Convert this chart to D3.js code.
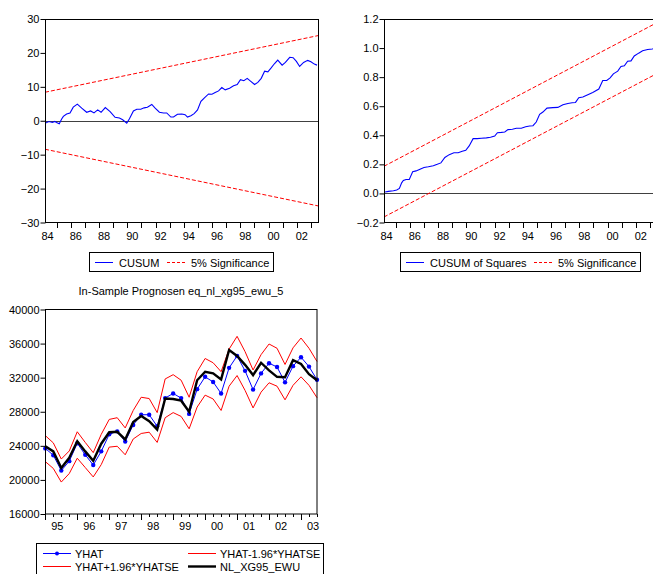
<!DOCTYPE html>
<html><head><meta charset="utf-8">
<script src="https://cdn.jsdelivr.net/npm/d3@7"></script>
<style>
body{margin:0;background:#fff}
svg{display:block}
text{font-family:"Liberation Sans",Arial,sans-serif;font-size:11px;fill:#000}
</style>
</head><body>
<svg id="c" width="653" height="574"></svg>
<script>
// ---- CUSUM chart data ----
const cusumT = [1984.21,1984.40,1984.52,1984.69,1984.87,1984.99,1985.18,1985.35,1985.47,1985.70,1985.94,1986.17,1986.46,1986.77,1987.12,1987.40,1987.64,1987.90,1988.14,1988.44,1988.78,1989.13,1989.44,1989.67,1989.96,1990.15,1990.43,1990.67,1990.95,1991.19,1991.42,1991.73,1991.97,1992.27,1992.56,1992.79,1993.08,1993.27,1993.55,1993.86,1994.09,1994.26,1994.50,1994.73,1994.97,1995.21,1995.44,1995.75,1995.99,1996.22,1996.46,1996.69,1996.93,1997.24,1997.52,1997.78,1998.01,1998.25,1998.49,1998.72,1999.01,1999.24,1999.48,1999.72,1999.95,2000.17,2000.41,2000.65,2000.96,2001.19,2001.50,2001.74,2001.97,2002.20,2002.48,2002.77,2003.00,2003.24,2003.43];
const cusumV = [-0.7,-0.3,-0.3,-0.5,-0.2,-0.5,-0.9,0.5,1.3,2.0,2.3,4.0,4.9,3.7,2.5,2.9,2.3,3.2,2.5,3.9,2.7,1.0,0.8,0.3,-0.7,0.6,2.9,3.4,3.4,3.8,4.0,4.8,3.7,2.5,2.3,2.3,1.1,1.1,1.9,2.0,1.8,1.1,1.5,2.1,3.2,5.7,6.7,7.9,7.8,8.3,8.8,9.8,9.1,9.6,10.3,10.7,12.1,11.8,12.5,11.7,10.7,11.3,12.5,14.6,14.4,15.5,16.8,17.9,16.4,17.2,18.7,18.6,17.5,16.0,17.2,17.8,17.4,16.7,16.4];
const boundT = [1984.17, 2003.5];
const cusumUpper = [8.4, 25.1];
const cusumLower = [-8.4, -25.1];
const cusumTicks = [-30,-20,-10,0,10,20,30];

// ---- CUSUM of squares data ----
const sqT = [1984.25,1984.48,1984.84,1985.07,1985.26,1985.42,1985.54,1985.73,1985.96,1986.20,1986.44,1986.72,1987.00,1987.31,1987.66,1987.94,1988.20,1988.48,1988.79,1989.12,1989.42,1989.71,1989.96,1990.20,1990.48,1990.76,1991.07,1991.42,1991.71,1992.01,1992.20,1992.48,1992.72,1992.95,1993.26,1993.54,1993.89,1994.20,1994.48,1994.72,1994.95,1995.19,1995.42,1995.71,1996.13,1996.48,1996.84,1997.19,1997.49,1997.73,1997.96,1998.25,1998.60,1998.95,1999.38,1999.66,1999.94,2000.18,2000.41,2000.72,2000.95,2001.19,2001.42,2001.66,2001.89,2002.20,2002.48,2002.84,2003.17,2003.45];
const sqV = [0.010,0.014,0.018,0.023,0.034,0.073,0.089,0.096,0.096,0.149,0.155,0.167,0.178,0.183,0.190,0.200,0.210,0.247,0.267,0.280,0.280,0.290,0.297,0.327,0.377,0.377,0.380,0.382,0.386,0.395,0.418,0.420,0.423,0.439,0.441,0.448,0.448,0.459,0.464,0.466,0.491,0.544,0.560,0.587,0.590,0.592,0.610,0.619,0.624,0.626,0.658,0.663,0.679,0.695,0.718,0.777,0.777,0.795,0.823,0.841,0.873,0.878,0.910,0.912,0.946,0.965,0.981,0.990,0.994,1.000];
const sqUpper = [0.187, 1.175];
const sqLower = [-0.162, 0.825];
const sqTicks = [-0.2,0.0,0.2,0.4,0.6,0.8,1.0,1.2];

const topYears = d3.range(1985, 2004);
const topYearLabels = [1984,1986,1988,1990,1992,1994,1996,1998,2000,2002];

// ---- In-sample forecast data (quarterly 1995Q1 - 2003Q3) ----
const fcStartYear = 1995;
const yhat =   [23700,22900,21100,22200,24300,22950,21750,23350,25350,25700,24500,26450,27650,27650,26300,29600,30150,29600,27750,30650,32100,31500,30150,33150,34550,32800,30600,32500,33700,33250,31450,33350,34400,33300,31750];
const yhatHi = [25200,24350,22450,23400,25650,24400,23200,25350,27100,27300,26100,28150,29700,29550,27900,31850,32350,31700,29700,32700,34250,33750,32700,35350,36850,35050,32900,34700,35950,35450,33550,35500,36650,35450,33900];
const yhatLo = [22150,21350,19750,20750,22550,21450,20350,21800,23850,23950,22950,24800,25450,25600,24400,27300,27900,27450,26000,28550,29950,29500,28150,31000,32250,30500,28450,30300,31400,31000,29400,31100,32100,31100,29650];
const actual = [23950,23350,21400,22600,24550,23350,22250,24250,25600,25650,24750,26800,27500,26900,25900,29550,29500,29300,28000,31700,32700,32500,31800,35250,34550,33500,32300,33750,32850,32100,32050,34050,33600,32400,31700];
const fcTicks = [16000,20000,24000,28000,32000,36000,40000];
const fcYears = [1995,1996,1997,1998,1999,2000,2001,2002,2003];
const fcTitle = "In-Sample Prognosen eq_nl_xg95_ewu_5";

const svg = d3.select("#c");
const BLUE = "#0000ff", RED = "#ff0000";
const yy = v => String(((v % 100) + 100) % 100).padStart(2, "0");

function topChart(x0, T, V, up, lo, ticks, yDomain, fmt, legendItems, legendBox) {
  const g = svg.append("g");
  const x = d3.scaleLinear().domain(boundT).range([x0, x0 + 273]);
  const y = d3.scaleLinear().domain(yDomain).range([222.5, 19]);
  // zero line
  g.append("line").attr("x1", x0).attr("x2", x0 + 273).attr("y1", Math.round(y(0)) + 0.5).attr("y2", Math.round(y(0)) + 0.5)
    .attr("stroke", "#404040").attr("stroke-width", 1);
  // bounds
  const bl = d3.line().x((d, i) => x(boundT[i])).y(d => y(d));
  [up, lo].forEach(b => g.append("path").attr("d", bl(b)).attr("fill", "none")
    .attr("stroke", RED).attr("stroke-width", 1).attr("stroke-dasharray", "4,2"));
  // series
  const sl = d3.line().x((d, i) => x(T[i])).y(d => y(d));
  g.append("path").attr("d", sl(V)).attr("fill", "none").attr("stroke", BLUE).attr("stroke-width", 1.1);
  // frame
  g.append("rect").attr("x", x0 + 0.5).attr("y", 19.5).attr("width", 273).attr("height", 203)
    .attr("fill", "none").attr("stroke", "#000").attr("stroke-width", 1);
  // y axis
  const ya = d3.axisLeft(y).tickValues(ticks).tickSize(5).tickPadding(1).tickFormat(fmt);
  const yg = g.append("g").attr("transform", `translate(${x0 + 0.5},0)`).call(ya);
  yg.select(".domain").remove();
  yg.selectAll("text").style("font-family", '"Liberation Sans",Arial,sans-serif').style("font-size", "11px");
  // x ticks
  g.selectAll(".xt").data(topYears).enter().append("line")
    .attr("x1", d => Math.round(x(d)) + 0.5).attr("x2", d => Math.round(x(d)) + 0.5)
    .attr("y1", 223).attr("y2", 228).attr("stroke", "#000");
  g.selectAll(".xl").data(topYearLabels).enter().append("text")
    .attr("x", d => x(d + 0.35)).attr("y", 240).attr("text-anchor", "middle").text(d => yy(d));
  // legend
  const lg = svg.append("g");
  lg.append("rect").attr("x", legendBox[0] + 0.5).attr("y", 252.5).attr("width", legendBox[1]).attr("height", 19)
    .attr("fill", "#fff").attr("stroke", "#000");
  legendItems.forEach(it => {
    lg.append("line").attr("x1", it.lx).attr("x2", it.lx + 18).attr("y1", 262.5).attr("y2", 262.5)
      .attr("stroke", it.color).attr("stroke-dasharray", it.dash || null);
    lg.append("text").attr("x", it.lx + 24).attr("y", 266.5).text(it.label);
  });
}

topChart(45, cusumT, cusumV, cusumUpper, cusumLower, cusumTicks, [-30, 30], d3.format("d"),
  [{lx: 95, color: BLUE, label: "CUSUM"}, {lx: 167, color: RED, dash: "3,2", label: "5% Significance"}],
  [89, 184]);
topChart(384, sqT, sqV, sqUpper, sqLower, sqTicks, [-0.2, 1.2], d3.format(".1f"),
  [{lx: 406, color: BLUE, label: "CUSUM of Squares"}, {lx: 534, color: RED, dash: "3,2", label: "5% Significance"}],
  [400, 240]);

// ---- bottom chart ----
(function () {
  const g = svg.append("g");
  const n = yhat.length;
  const tq = d3.range(n).map(k => fcStartYear + k / 4);
  const x = d3.scaleLinear().domain([fcStartYear, fcStartYear + (n - 1) / 4]).range([45.3, 317]);
  const y = d3.scaleLinear().domain([16000, 40000]).range([514, 309.5]);
  const line = d3.line().x((d, i) => x(tq[i])).y(d => y(d));
  g.append("text").attr("x", 181).attr("y", 295).attr("text-anchor", "middle").text(fcTitle);
  g.append("path").attr("d", line(yhatHi)).attr("fill", "none").attr("stroke", RED).attr("stroke-width", 1);
  g.append("path").attr("d", line(yhatLo)).attr("fill", "none").attr("stroke", RED).attr("stroke-width", 1);
  g.append("path").attr("d", line(yhat)).attr("fill", "none").attr("stroke", BLUE).attr("stroke-width", 1);
  g.selectAll(".dot").data(yhat).enter().append("circle")
    .attr("cx", (d, i) => x(tq[i])).attr("cy", d => y(d)).attr("r", 2.2).attr("fill", BLUE);
  g.append("path").attr("d", line(actual)).attr("fill", "none").attr("stroke", "#000").attr("stroke-width", 2.4);
  g.append("rect").attr("x", 45.5).attr("y", 309.5).attr("width", 271.5).attr("height", 204.5)
    .attr("fill", "none").attr("stroke", "#000").attr("stroke-width", 1);
  const ya = d3.axisLeft(y).tickValues(fcTicks).tickSize(5).tickPadding(1).tickFormat(d3.format("d"));
  const yg = g.append("g").attr("transform", "translate(45.5,0)").call(ya);
  yg.select(".domain").remove();
  yg.selectAll("text").style("font-family", '"Liberation Sans",Arial,sans-serif').style("font-size", "11px");
  // quarter minor ticks
  g.selectAll(".mq").data(tq).enter().append("line")
    .attr("x1", d => Math.round(x(d)) + 0.5).attr("x2", d => Math.round(x(d)) + 0.5)
    .attr("y1", 514).attr("y2", d => (Math.abs(d - Math.round(d)) < 1e-6 ? 520 : 517)).attr("stroke", "#000");
  g.selectAll(".yl").data(fcYears).enter().append("text")
    .attr("x", d => x(d + 0.375)).attr("y", 530).attr("text-anchor", "middle").text(d => yy(d));
  // legend
  const lg = svg.append("g");
  lg.append("rect").attr("x", 36.5).attr("y", 543.5).attr("width", 287).attr("height", 40)
    .attr("fill", "#fff").attr("stroke", "#000");
  const items = [
    {x: 43, y: 553.5, label: "YHAT", color: BLUE, w: 1, dot: true},
    {x: 188, y: 553.5, label: "YHAT-1.96*YHATSE", color: RED, w: 1},
    {x: 43, y: 566.5, label: "YHAT+1.96*YHATSE", color: RED, w: 1},
    {x: 188, y: 566.5, label: "NL_XG95_EWU", color: "#000", w: 2.4}
  ];
  items.forEach(it => {
    lg.append("line").attr("x1", it.x).attr("x2", it.x + 28).attr("y1", it.y).attr("y2", it.y)
      .attr("stroke", it.color).attr("stroke-width", it.w);
    if (it.dot) lg.append("circle").attr("cx", it.x + 14).attr("cy", it.y).attr("r", 2).attr("fill", it.color);
    lg.append("text").attr("x", it.x + 32).attr("y", it.y + 4).text(it.label);
  });
})();
</script>
</body></html>
